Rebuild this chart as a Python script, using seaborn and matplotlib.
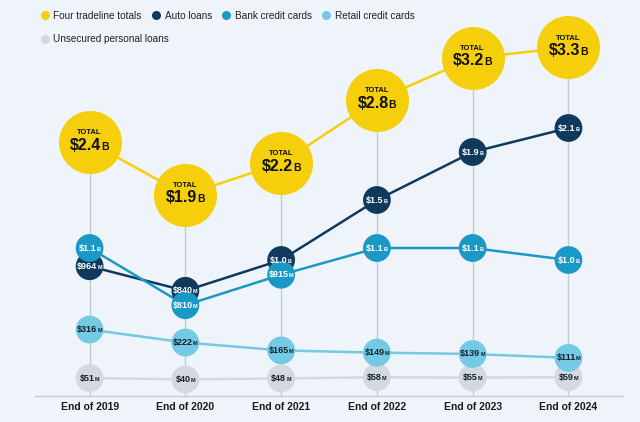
import numpy as np
import pandas as pd
import matplotlib.pyplot as plt
import seaborn as sns
from matplotlib.lines import Line2D
from matplotlib.offsetbox import TextArea, HPacker, VPacker, AnnotationBbox

# values in billions of dollars
years = ["End of 2019", "End of 2020", "End of 2021", "End of 2022", "End of 2023", "End of 2024"]
totals = [2.4, 1.9, 2.2, 2.8, 3.2, 3.3]
auto_loans = [0.964, 0.840, 1.0, 1.5, 1.9, 2.1]
bank_cards = [1.1, 0.810, 0.915, 1.1, 1.1, 1.0]
retail_cards = [0.316, 0.222, 0.165, 0.149, 0.139, 0.111]
personal_loans = [0.051, 0.040, 0.048, 0.058, 0.055, 0.059]

series_names = ["Auto loans", "Bank credit cards", "Retail credit cards", "Unsecured personal loans"]

BG = "#EEF4F9"
YELLOW = "#F5CE0C"
colors = {
    "Auto loans": "#0F3A5E",
    "Bank credit cards": "#1A99C6",
    "Retail credit cards": "#74C9E4",
    "Unsecured personal loans": "#D3D9DF",
}
text_colors = {
    "Auto loans": "white",
    "Bank credit cards": "white",
    "Retail credit cards": "#14202B",
    "Unsecured personal loans": "#14202B",
}

# the chart stretches the small values, so the y scale is piecewise
val_knots = [-0.1, 0.06, 0.11, 0.32, 0.8, 0.85, 1.0, 3.5]
pos_knots = [0, 19, 38, 67, 86, 110, 136, 436]


def fwd(v):
    return np.interp(v, val_knots, pos_knots)


def inv(u):
    return np.interp(u, pos_knots, val_knots)


def money(v):
    if v >= 1:
        return f"${v:.1f}", "B"
    return f"${v * 1000:.0f}", "M"


sns.set_theme(style="white", rc={"axes.facecolor": BG, "figure.facecolor": BG})
plt.rcParams["font.family"] = ["Liberation Sans", "DejaVu Sans"]

df = pd.DataFrame({
    "x": list(range(len(years))) * 4,
    "value": auto_loans + bank_cards + retail_cards + personal_loans,
    "series": np.repeat(series_names, len(years)),
})

fig = plt.figure(figsize=(6.4, 4.22), dpi=100)
ax = fig.add_axes([0.0547, 0.0616, 0.9188, 0.891])
ax_tot = ax.twinx()
ax.set_zorder(ax_tot.get_zorder() + 1)
ax.patch.set_visible(False)

# totals layer (behind)
xs = list(range(len(years)))
ax_tot.vlines(xs, -0.01, totals, color="#C3CBD3", lw=1, zorder=1)
sns.lineplot(x=xs, y=totals, color=YELLOW, linewidth=1.8, ax=ax_tot, zorder=2)
sns.scatterplot(x=xs, y=totals, color=YELLOW, s=2060, linewidth=0, ax=ax_tot, zorder=3,
                clip_on=False)
ax_tot.set_ylim(-0.01, 3.56)

for x, v in zip(xs, totals):
    top = TextArea("TOTAL", textprops=dict(size=5.5, weight="bold", color="#111111"))
    num = TextArea(f"${v:.1f}", textprops=dict(size=11.5, weight="bold", color="#111111"))
    unit = TextArea("B", textprops=dict(size=7.5, weight="bold", color="#111111"))
    box = VPacker(children=[top, HPacker(children=[num, unit], align="baseline", pad=0, sep=0)],
                  align="center", pad=0, sep=1)
    ab = AnnotationBbox(box, (x, v), xycoords="data", frameon=False, box_alignment=(0.5, 0.45),
                        pad=0, zorder=5)
    ax_tot.add_artist(ab)

# component series
sns.lineplot(data=df, x="x", y="value", hue="series", palette=colors, linewidth=1.8,
             legend=False, ax=ax, zorder=2)
layer = ["Unsecured personal loans", "Retail credit cards", "Auto loans", "Bank credit cards"]
df_layer = pd.concat([df[df["series"] == s] for s in layer])
sns.scatterplot(data=df_layer, x="x", y="value", hue="series", palette=colors, s=400,
                linewidth=0, legend=False, ax=ax, zorder=3, clip_on=False)

ax.set_yscale("function", functions=(fwd, inv))
ax.set_ylim(-0.1, 3.0)
ax.set_xlim(-0.57, 5.57)

for _, row in df.iterrows():
    n, u = money(row["value"])
    c = text_colors[row["series"]]
    box = HPacker(children=[
        TextArea(n, textprops=dict(size=6.5, weight="bold", color=c)),
        TextArea(u, textprops=dict(size=4, weight="bold", color=c)),
    ], align="baseline", pad=0, sep=0)
    ab = AnnotationBbox(box, (row["x"], row["value"]), xycoords="data", frameon=False,
                        box_alignment=(0.5, 0.5), pad=0, zorder=5)
    ax.add_artist(ab)

for a in (ax, ax_tot):
    for side in ["top", "left", "right", "bottom"]:
        a.spines[side].set_visible(False)
    a.set_yticks([])
    a.set_ylabel("")
ax.spines["bottom"].set_visible(True)
ax.spines["bottom"].set_color("#C5CDD5")
ax.spines["bottom"].set_linewidth(1)
ax.set_xlabel("")
ax.set_xticks(xs, years, fontsize=7.5, fontweight="bold", color="#1A1A1A")
ax.tick_params(axis="x", length=0, pad=4)
ax.tick_params(axis="y", left=False, right=False)
ax_tot.tick_params(axis="y", left=False, right=False)

# legend
leg_labels = ["Four tradeline totals"] + series_names
leg_colors = [YELLOW] + [colors[s] for s in series_names]
handles = [Line2D([0], [0], marker="o", ls="", markersize=6.5, markerfacecolor=c,
                  markeredgewidth=0) for c in leg_colors]
opts = dict(loc="center left", frameon=False, fontsize=7.2, handlelength=0.9, handletextpad=0.4,
            columnspacing=1.0, borderpad=0, borderaxespad=0, labelcolor="#222222")
fig.legend(handles[:4], leg_labels[:4], bbox_to_anchor=(40.3 / 640, 1 - 15.7 / 422), ncol=4, **opts)
fig.legend(handles[4:], leg_labels[4:], bbox_to_anchor=(40.3 / 640, 1 - 39 / 422), ncol=1, **opts)

fig.savefig("out.png", dpi=100, facecolor=BG)
